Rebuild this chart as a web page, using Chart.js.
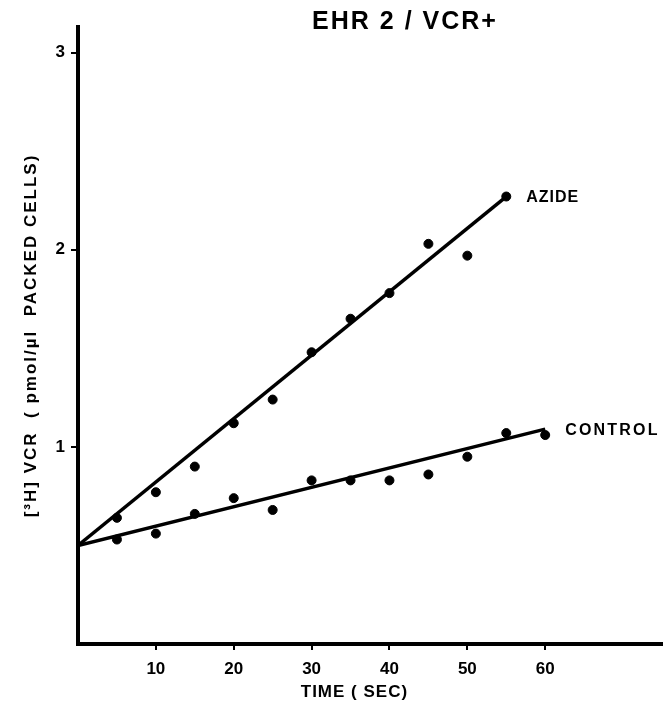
<!DOCTYPE html>
<html>
<head>
<meta charset="utf-8">
<script src="https://cdn.jsdelivr.net/npm/chart.js@4/dist/chart.umd.min.js"></script>
<style>
  html, body { margin: 0; padding: 0; background: #fff; }
  #c { display: block; }
</style>
</head>
<body>
<canvas id="c" width="671" height="704"></canvas>
<script>
// ---- data ----
const chartTitle = "EHR 2 / VCR+";
const xTitle = "TIME ( SEC)";
const yTitle = "[\u00B3H] VCR  ( pmol/\u00B5l  PACKED CELLS)";
const xTicks = [10, 20, 30, 40, 50, 60];
const yTicks = [1, 2, 3];

const azideTime = [5, 10, 15, 20, 25, 30, 35, 40, 45, 50, 55];
const azideVals = [0.64, 0.77, 0.90, 1.12, 1.24, 1.48, 1.65, 1.78, 2.03, 1.97, 2.27];

const controlTime = [5, 10, 15, 20, 25, 30, 35, 40, 45, 50, 55, 60];
const controlVals = [0.53, 0.56, 0.66, 0.74, 0.68, 0.83, 0.83, 0.83, 0.86, 0.95, 1.07, 1.06];

const azideFitX = [0, 55];
const azideFitY = [0.50, 2.27];
const controlFitX = [0, 60];
const controlFitY = [0.50, 1.09];

const seriesNames = ["AZIDE", "CONTROL"];

const toPts = (xs, ys) => xs.map((x, i) => ({ x: x, y: ys[i] }));

const FONT = "'Liberation Sans', Arial, sans-serif";

const textPlugin = {
  id: 'texts',
  afterDatasetsDraw(chart) {
    const ctx = chart.ctx;
    const xs = chart.scales.x, ys = chart.scales.y;
    ctx.save();
    ctx.fillStyle = '#000';
    ctx.textBaseline = 'middle';
    ctx.textAlign = 'left';
    // series labels next to the last point of each series
    ctx.font = "bold 16px " + FONT;
    ctx.letterSpacing = "1px";
    const a = chart.getDatasetMeta(2).data;
    const aLast = a[a.length - 1];
    ctx.fillText(seriesNames[0], aLast.x + 20, aLast.y + 1);
    ctx.letterSpacing = "2.2px";
    const c = chart.getDatasetMeta(3).data;
    const cLast = c[c.length - 1];
    ctx.fillText(seriesNames[1], cLast.x + 20, cLast.y - 4);
    // chart title
    ctx.font = "bold 25px " + FONT;
    ctx.letterSpacing = "2px";
    ctx.textAlign = 'center';
    ctx.fillText(chartTitle, xs.getPixelForValue(42), 22);
    // x axis title
    ctx.font = "bold 17px " + FONT;
    ctx.letterSpacing = "1px";
    ctx.fillText(xTitle, xs.getPixelForValue(35.5), 692);
    // y axis title
    ctx.font = "bold 17px " + FONT;
    ctx.letterSpacing = "2px";
    ctx.translate(31, (ys.top + ys.bottom) / 2);
    ctx.rotate(-Math.PI / 2);
    ctx.fillText(yTitle, 0, 0);
    ctx.restore();
  }
};

new Chart(document.getElementById('c'), {
  type: 'scatter',
  data: {
    datasets: [
      {
        label: 'azide fit', data: toPts(azideFitX, azideFitY), showLine: true,
        borderColor: '#000', borderWidth: 3.5, pointRadius: 0, fill: false
      },
      {
        label: 'control fit', data: toPts(controlFitX, controlFitY), showLine: true,
        borderColor: '#000', borderWidth: 3.5, pointRadius: 0, fill: false
      },
      {
        label: seriesNames[0], data: toPts(azideTime, azideVals),
        pointRadius: 4.5, pointBackgroundColor: '#000', pointBorderColor: '#000', pointBorderWidth: 1
      },
      {
        label: seriesNames[1], data: toPts(controlTime, controlVals),
        pointRadius: 4.5, pointBackgroundColor: '#000', pointBorderColor: '#000', pointBorderWidth: 1
      }
    ]
  },
  options: {
    responsive: false,
    animation: false,
    devicePixelRatio: 1,
    layout: { padding: { top: 27, right: 9, left: 0, bottom: 0 } },
    plugins: { legend: { display: false }, tooltip: { enabled: false }, title: { display: false } },
    scales: {
      x: {
        type: 'linear', min: 0, max: 75,
        afterBuildTicks: s => { s.ticks = xTicks.map(v => ({ value: v })); },
        afterFit: s => { s.height = 60; },
        grid: { drawOnChartArea: false, drawTicks: true, tickLength: 6, color: '#000', lineWidth: 2 },
        border: { display: true, color: '#000', width: 4 },
        ticks: { color: '#000', font: { family: FONT, size: 17, weight: 'bold' }, padding: 9, maxRotation: 0 },
        title: { display: false }
      },
      y: {
        type: 'linear', min: 0, max: 3.13,
        afterBuildTicks: s => { s.ticks = yTicks.map(v => ({ value: v })); },
        afterFit: s => { s.width = 78; },
        grid: { drawOnChartArea: false, drawTicks: true, tickLength: 7, color: '#000', lineWidth: 2 },
        border: { display: true, color: '#000', width: 4 },
        ticks: { color: '#000', font: { family: FONT, size: 17, weight: 'bold' }, padding: 6 },
        title: { display: false }
      }
    }
  },
  plugins: [textPlugin]
});
</script>
</body>
</html>
